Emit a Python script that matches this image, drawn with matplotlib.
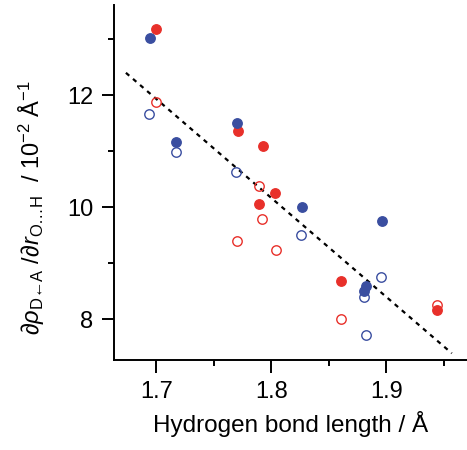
import matplotlib
matplotlib.use('Agg')
import matplotlib.pyplot as plt

plt.rcParams['font.family'] = ['Liberation Sans', 'DejaVu Sans']
plt.rcParams['mathtext.fontset'] = 'custom'
plt.rcParams['mathtext.rm'] = 'Liberation Sans'
plt.rcParams['mathtext.it'] = 'Liberation Sans:italic'
plt.rcParams['mathtext.bf'] = 'Liberation Sans:bold'

# filled symbols
blue_fill_x = [1.6942, 1.7173, 1.7698, 1.8264, 1.8957, 1.8823, 1.8806]
blue_fill_y = [13.015, 11.17, 11.50, 10.01, 9.76, 8.59, 8.50]
red_fill_x = [1.6994, 1.7707, 1.7923, 1.8033, 1.7894, 1.8607, 1.9441]
red_fill_y = [13.19, 11.36, 11.085, 10.26, 10.05, 8.69, 8.17]

# open symbols
blue_open_x = [1.6936, 1.7173, 1.7693, 1.8258, 1.8953, 1.8806, 1.8823]
blue_open_y = [11.667, 10.99, 10.62, 9.51, 8.75, 8.40, 7.715]
red_open_x = [1.6994, 1.7894, 1.7920, 1.7704, 1.8036, 1.8607, 1.9441]
red_open_y = [11.87, 10.37, 9.79, 9.39, 9.23, 8.00, 8.25]

# fitted line
fit_x = [1.6734, 1.9568]
fit_y = [12.40, 7.39]

blue = '#3a4ea0'
red = '#e8302a'

fig = plt.figure(figsize=(4.67, 4.5), dpi=100)
ax = fig.add_axes([0.244, 0.2, 0.756, 0.79])

ax.plot(fit_x, fit_y, color='black', lw=1.6, linestyle=(0, (2, 2.2)), zorder=1)

ms = 6.8
ax.plot(blue_open_x, blue_open_y, 'o', ms=ms, mfc='none', mec=blue, mew=1.0, zorder=2)
ax.plot(red_open_x, red_open_y, 'o', ms=ms, mfc='none', mec=red, mew=1.0, zorder=2)
ax.plot(red_fill_x, red_fill_y, 'o', ms=ms, color=red, mec=red, zorder=3)
ax.plot(blue_fill_x, blue_fill_y, 'o', ms=ms, color=blue, mec=blue, zorder=3)

ax.set_xlim(1.663, 1.97)
ax.set_ylim(7.27, 13.62)
ax.set_xticks([1.7, 1.8, 1.9])
ax.set_xticks([1.75, 1.85, 1.95], minor=True)
ax.set_yticks([8, 10, 12])
ax.set_yticks([9, 11, 13], minor=True)

for s in ['top', 'right']:
    ax.spines[s].set_visible(False)
for s in ['left', 'bottom']:
    ax.spines[s].set_linewidth(1.4)

ax.tick_params(which='major', direction='out', length=9, width=1.4, labelsize=17, pad=6)
ax.tick_params(which='minor', direction='out', length=4, width=1.4)

ax.set_xlabel('Hydrogen bond length / Å', fontsize=17.5, labelpad=6)
ax.set_ylabel('$\\partial\\rho_{\\mathrm{D\u2190A}}\\ /\\partial r_{\\mathrm{O\u2026H}}$  / 10$^{-2}$ Å$^{-1}$',
              fontsize=17)
ax.yaxis.set_label_coords(-0.19, 0.43)

fig.savefig('out.png', dpi=100)
